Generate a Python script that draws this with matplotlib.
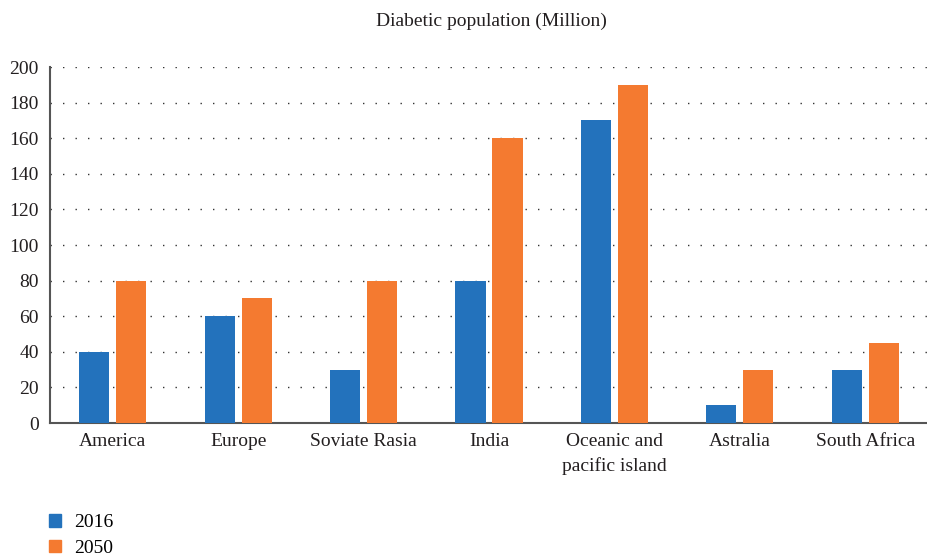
import matplotlib.pyplot as plt
import numpy as np
from matplotlib.patches import Patch

plt.rcParams['font.family'] = ['Liberation Serif', 'DejaVu Serif']

regions = ['America', 'Europe', 'Soviate Rasia', 'India', 'Oceanic and\npacific island', 'Astralia', 'South Africa']
pop_2016 = [40, 60, 30, 80, 170, 10, 30]
pop_2050 = [80, 70, 80, 160, 190, 30, 45]
yticks = [0, 20, 40, 60, 80, 100, 120, 140, 160, 180, 200]

blue = '#2372bc'
orange = '#f47a30'

fig = plt.figure(figsize=(9.28, 5.57), dpi=100)
ax = fig.add_axes([50/928, 134/557, 878/928, 356/557])

x = np.arange(len(regions))
w = 0.24
gap = 0.055
ax.bar(x - (w + gap)/2, pop_2016, width=w, color=blue, zorder=3)
ax.bar(x + (w + gap)/2, pop_2050, width=w, color=orange, zorder=3)

ax.set_xlim(-0.5, len(regions) - 0.5)
ax.set_ylim(0, 200)
ax.set_yticks(yticks)
ax.set_xticks(x)
ax.set_xticklabels(regions, fontsize=14, color='#231f20', linespacing=1.5)
ax.tick_params(axis='y', labelsize=14, colors='#231f20', length=0, pad=8)
ax.tick_params(axis='x', length=0, pad=7)
ax.yaxis.grid(True, linestyle=(0, (1, 8)), color='#333333', linewidth=1.0)
ax.set_axisbelow(True)
for s in ['top', 'right']:
    ax.spines[s].set_visible(False)
for s in ['left', 'bottom']:
    ax.spines[s].set_color('#555555')
    ax.spines[s].set_linewidth(1.5)

fig.text(0.53, 0.962, 'Diabetic population (Million)', ha='center', va='center',
         fontsize=14, color='#231f20')

handles = [Patch(color=blue, label='2016'), Patch(color=orange, label='2050')]
fig.legend(handles=handles, loc='lower left', bbox_to_anchor=(49/928, 0/557),
           borderaxespad=0, borderpad=0, frameon=False, fontsize=14,
           handlelength=0.6, handleheight=0.6, handletextpad=0.7,
           labelspacing=0.45)

fig.savefig('out.png', dpi=100)
